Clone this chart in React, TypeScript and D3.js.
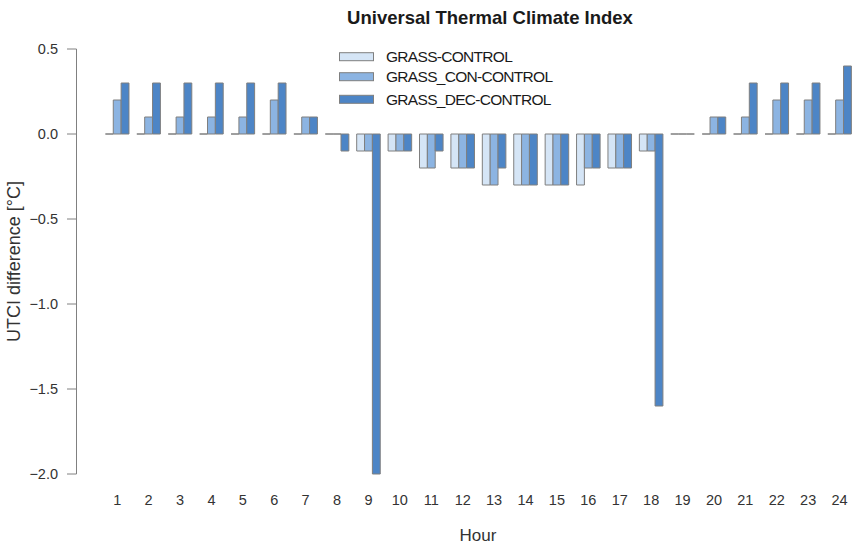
import React from 'react';
import * as d3 from 'd3';

const hours = d3.range(1, 25).map(String);
const seriesNames = ['GRASS-CONTROL', 'GRASS_CON-CONTROL', 'GRASS_DEC-CONTROL'];
const colors = ['#d5e5f6', '#8cb4e2', '#4d85c6'];

const grassControl = [0, 0, 0, 0, 0, 0, 0, 0, -0.1, -0.1, -0.2, -0.2, -0.3, -0.3, -0.3, -0.3, -0.2, -0.1, 0, 0, 0, 0, 0, 0];
const grassConControl = [0.2, 0.1, 0.1, 0.1, 0.1, 0.2, 0.1, 0, -0.1, -0.1, -0.2, -0.2, -0.3, -0.3, -0.3, -0.2, -0.2, -0.1, 0, 0.1, 0.1, 0.2, 0.2, 0.2];
const grassDecControl = [0.3, 0.3, 0.3, 0.3, 0.3, 0.3, 0.1, -0.1, -2.0, -0.1, -0.1, -0.2, -0.2, -0.3, -0.3, -0.2, -0.2, -1.6, 0, 0.1, 0.3, 0.3, 0.3, 0.4];

const yTicks = [0.5, 0, -0.5, -1, -1.5, -2];

const W = 852;
const H = 545;
const FONT = '"Liberation Sans", Arial, Helvetica, sans-serif';

export default function App() {
  const series = [grassControl, grassConControl, grassDecControl];

  const x = d3.scaleBand().domain(hours).range([101.5, 855.3]).paddingInner(0.25).paddingOuter(0.125);
  const xInner = d3.scaleBand().domain(seriesNames).range([0, x.bandwidth()]);
  const y = d3.scaleLinear().domain([-2, 0.5]).range([474, 49]);

  // zero-height bars still show their outline, like R's barplot
  const barPath = (x0: number, w: number, v: number) => {
    const y0 = y(0);
    const y1 = y(v);
    return `M${x0},${y0}H${x0 + w}V${y1}H${x0}Z`;
  };

  const legendY = [56.7, 76.7, 99.3];

  return (
    <div style={{ position: 'absolute', left: 0, top: 0 }}>
      <svg width={W} height={H} style={{ display: 'block', fontFamily: FONT }}>
        <rect width={W} height={H} fill="#ffffff" />
        <text x={490} y={24} textAnchor="middle" fontSize={18.5} fontWeight="bold" fill="#1a1a1a">
          Universal Thermal Climate Index
        </text>

        {/* y axis */}
        <g stroke="#808080" strokeWidth={1} fill="none">
          <line x1={76.5} x2={76.5} y1={y(0.5)} y2={y(-2)} />
          {yTicks.map(t => (
            <line key={t} x1={67} x2={76.5} y1={y(t)} y2={y(t)} />
          ))}
        </g>
        {yTicks.map(t => (
          <text key={t} x={58} y={y(t)} dy="0.35em" textAnchor="end" fontSize={14.5} fill="#333333">
            {d3.format('.1f')(t)}
          </text>
        ))}
        <text
          transform={`translate(14,${(y(0.5) + y(-2)) / 2}) rotate(-90)`}
          dy="0.35em"
          textAnchor="middle"
          fontSize={18}
          fill="#333333"
        >
          UTCI difference [°C]
        </text>

        {/* bars */}
        {hours.map((h, i) => (
          <g key={h}>
            {series.map((s, k) => (
              <path
                key={k}
                d={barPath((x(h) ?? 0) + (xInner(seriesNames[k]) ?? 0), xInner.bandwidth(), s[i])}
                fill={colors[k]}
                stroke="#7f7f7f"
                strokeWidth={1}
              />
            ))}
          </g>
        ))}

        {/* x labels */}
        {hours.map(h => (
          <text key={h} x={(x(h) ?? 0) + x.bandwidth() / 2} y={500} dy="0.35em" textAnchor="middle" fontSize={14.5} fill="#333333">
            {h}
          </text>
        ))}
        <text x={478} y={535} dy="0.35em" textAnchor="middle" fontSize={17} fill="#333333">
          Hour
        </text>

        {/* legend */}
        {seriesNames.map((n, k) => (
          <g key={n}>
            <rect x={339.5} y={legendY[k] - 4} width={34} height={8} fill={colors[k]} stroke="#7f7f7f" strokeWidth={1} />
            <text x={386} y={legendY[k]} dy="0.35em" fontSize={15.5} letterSpacing={-0.7} fill="#1a1a1a">
              {n}
            </text>
          </g>
        ))}
      </svg>
    </div>
  );
}
